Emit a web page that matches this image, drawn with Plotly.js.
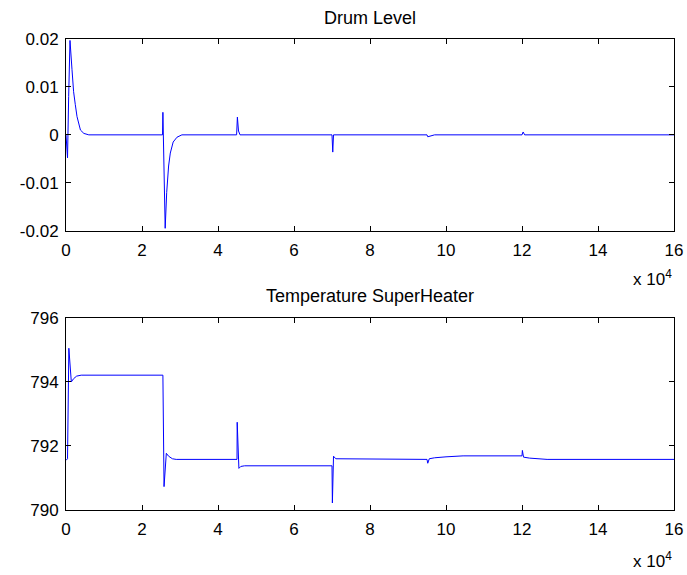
<!DOCTYPE html>
<html>
<head>
<meta charset="utf-8">
<script src="https://cdn.plot.ly/plotly-3.0.1.min.js"></script>
<style>html,body{margin:0;padding:0;background:#fff;}#chart{width:687px;height:575px;}</style>
</head>
<body>
<div id="chart"></div>
<script>
// x in units of 1e4
const drumX = [0, 0.02, 0.04, 0.07, 0.105, 0.158, 0.2, 0.245, 0.29, 0.38, 0.47, 0.6, 2.54, 2.55, 2.565, 2.61, 2.65, 2.7, 2.745, 2.82, 2.92, 3.05, 4.49, 4.51, 4.54, 4.58, 7.0, 7.02, 7.04, 9.5, 9.52, 9.6, 9.7, 12.0, 12.03, 12.07, 16];
const drumY = [0, -0.002, -0.0048, 0.008, 0.0197, 0.0136, 0.009, 0.0063, 0.0038, 0.001, 0.0003, 0, 0, 0.0047, 0, -0.0195, -0.012, -0.0065, -0.0038, -0.0015, -0.0005, 0, 0, 0.0037, 0.0008, 0, 0, -0.0036, 0, 0, -0.0004, -0.0002, 0, 0, 0.0006, 0, 0];

const tempX = [0, 0.04, 0.075, 0.1, 0.14, 0.2, 0.28, 0.4, 2.55, 2.58, 2.64, 2.7, 2.8, 2.9, 4.5, 4.505, 4.55, 4.6, 4.7, 7.0, 7.01, 7.04, 7.1, 9.5, 9.52, 9.56, 9.7, 10.0, 10.45, 12.0, 12.01, 12.04, 12.2, 12.66, 16];
const tempY = [791.55, 791.6, 795.05, 794.5, 794.0, 794.1, 794.18, 794.21, 794.21, 790.73, 791.77, 791.68, 791.6, 791.58, 791.58, 792.74, 791.3, 791.36, 791.38, 791.38, 790.22, 791.68, 791.6, 791.58, 791.46, 791.6, 791.63, 791.66, 791.69, 791.69, 791.86, 791.65, 791.62, 791.58, 791.58];

const xTicks = [0, 2, 4, 6, 8, 10, 12, 14, 16];
const drumTicks = [-0.02, -0.01, 0, 0.01, 0.02];
const drumTickText = ["-0.02", "-0.01", "0", "0.01", "0.02"];
const tempTicks = [790, 792, 794, 796];
const titles = ["Drum Level", "Temperature SuperHeater"];

const fam = "Liberation Sans, Arial, sans-serif";
const tickFont = {family: fam, size: 17, color: "#000"};
const titleFont = {family: fam, size: 18, color: "#000"};
const axBase = {
  showgrid: false, zeroline: false, showline: true, linecolor: "#000", linewidth: 1,
  mirror: "ticks", ticks: "inside", ticklen: 5, tickcolor: "#000", tickfont: tickFont
};

const traces = [
  {x: drumX, y: drumY, type: "scatter", mode: "lines", line: {color: "#0000ff", width: 1}, xaxis: "x", yaxis: "y", hoverinfo: "none"},
  {x: tempX, y: tempY, type: "scatter", mode: "lines", line: {color: "#0000ff", width: 1}, xaxis: "x2", yaxis: "y2", hoverinfo: "none"}
];

const layout = {
  width: 687, height: 575,
  margin: {l: 66, r: 13, t: 39, b: 65},
  paper_bgcolor: "#fff", plot_bgcolor: "#fff",
  showlegend: false,
  font: tickFont,
  xaxis: Object.assign({}, axBase, {domain: [0, 1], range: [0, 16], tickvals: xTicks, anchor: "y", ticklabelstandoff: 4}),
  yaxis: Object.assign({}, axBase, {domain: [0.593, 1], range: [-0.02, 0.02], tickvals: drumTicks, ticktext: drumTickText, anchor: "x", ticklabelstandoff: 3}),
  xaxis2: Object.assign({}, axBase, {domain: [0, 1], range: [0, 16], tickvals: xTicks, anchor: "y2", ticklabelstandoff: 4}),
  yaxis2: Object.assign({}, axBase, {domain: [0, 0.408], range: [790, 796], tickvals: tempTicks, anchor: "x2", ticklabelstandoff: 3}),
  annotations: [
    {text: titles[0], xref: "paper", yref: "paper", x: 0.5, y: 1, yshift: 21, showarrow: false, font: titleFont, xanchor: "center", yanchor: "middle"},
    {text: titles[1], xref: "paper", yref: "paper", x: 0.5, y: 0.408, yshift: 22, showarrow: false, font: titleFont, xanchor: "center", yanchor: "middle"},
    {text: "x 10<sup>4</sup>", xref: "paper", yref: "paper", x: 1, y: 0.593, yshift: -47, showarrow: false, font: tickFont, xanchor: "right", yanchor: "middle"},
    {text: "x 10<sup>4</sup>", xref: "paper", yref: "paper", x: 1, y: 0, yshift: -50, showarrow: false, font: tickFont, xanchor: "right", yanchor: "middle"}
  ]
};

Plotly.newPlot("chart", traces, layout, {displayModeBar: false, staticPlot: true});
</script>
</body>
</html>
